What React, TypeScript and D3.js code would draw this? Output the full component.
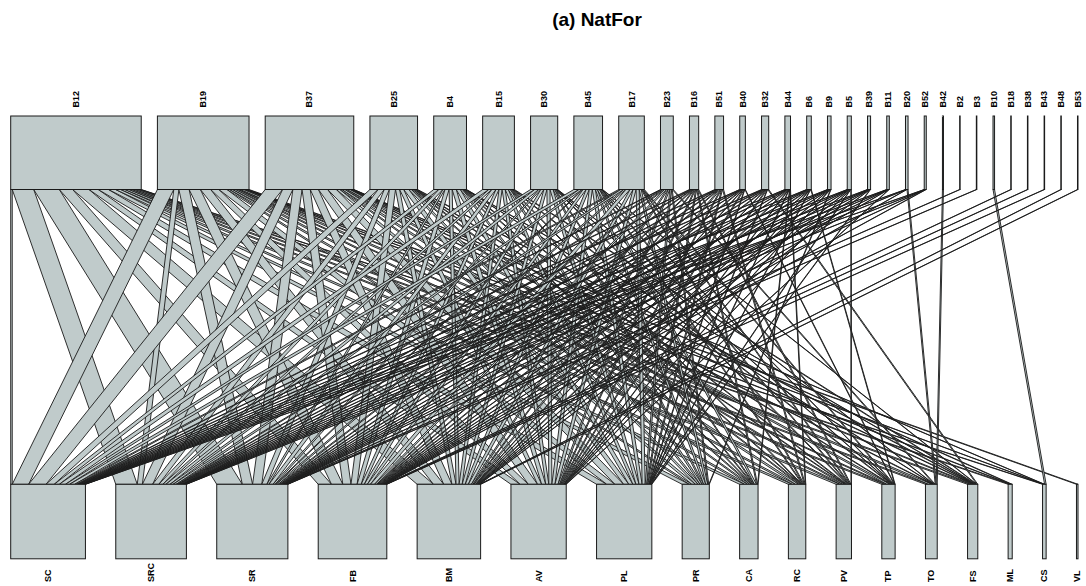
import React from "react";
import * as d3 from "d3";

const title = "(a) NatFor";

const lowerSpecies = ["SC", "SRC", "SR", "FB", "BM", "AV", "PL", "PR", "CA", "RC", "PV", "TP", "TO", "FS", "ML", "CS", "VL"];

const upperSpecies = ["B12", "B19", "B37", "B25", "B4", "B15", "B30", "B45", "B17", "B23", "B16", "B51", "B40", "B32", "B44", "B6", "B9", "B5", "B39", "B11", "B20", "B52", "B42", "B2", "B3", "B10", "B18", "B38", "B43", "B48", "B53"];

// interactions: one row per upper species, one value per lower species (same order as lowerSpecies)
const interactions: number[][] = [
  [3, 42, 50, 26, 32, 18, 20, 14, 10, 8, 8, 6, 6, 6, 4, 2, 0],
  [32, 10, 20, 22, 20, 16, 16, 5, 6, 6, 5, 4, 7, 4, 2, 1, 3],
  [34, 20, 18, 16, 16, 18, 17, 7, 4, 6, 4, 6, 2, 2, 2, 1, 0],
  [16, 12, 10, 12, 8, 8, 10, 5, 3, 3, 2, 2, 0, 2, 0, 0, 0],
  [10, 8, 4, 8, 6, 8, 8, 4, 2, 2, 2, 0, 1, 1, 0, 0, 0],
  [12, 6, 8, 6, 6, 6, 6, 4, 2, 2, 0, 2, 0, 2, 0, 0, 0],
  [8, 8, 4, 6, 6, 6, 6, 3, 2, 0, 2, 1, 1, 0, 0, 0, 0],
  [10, 6, 2, 6, 6, 6, 6, 4, 4, 2, 2, 1, 0, 1, 0, 0, 0],
  [4, 6, 4, 8, 6, 6, 6, 4, 0, 2, 2, 2, 0, 0, 0, 0, 0],
  [2, 3, 3, 4, 3, 3, 3, 2, 0, 0, 0, 0, 2, 0, 0, 0, 0],
  [2, 2, 2, 2, 2, 2, 2, 0, 2, 0, 2, 0, 0, 0, 0, 0, 0],
  [2, 2, 2, 2, 3, 2, 2, 0, 0, 2, 0, 0, 0, 0, 0, 0, 0],
  [1, 2, 1, 2, 1, 2, 1, 0, 0, 0, 0, 1, 0, 0, 0, 0, 0],
  [2, 2, 2, 2, 1, 2, 1, 0, 0, 0, 0, 0, 0, 2, 0, 0, 0],
  [1, 2, 1, 1, 2, 1, 1, 0, 1, 1, 0, 0, 0, 0, 0, 0, 0],
  [1, 1, 1, 2, 1, 1, 1, 0, 0, 0, 0, 1, 0, 0, 0, 0, 0],
  [1, 1, 1, 1, 1, 1, 0, 1, 0, 0, 0, 0, 0, 0, 0, 0, 0],
  [1, 1, 1, 1, 1, 1, 1, 0, 0, 0, 1, 0, 0, 0, 0, 0, 0],
  [1, 1, 1, 1, 1, 0, 1, 0, 0, 0, 0, 0, 0, 0, 0, 0, 0],
  [1, 1, 1, 1, 0, 1, 0, 0, 0, 0, 0, 0, 0, 0, 0, 0, 0],
  [1, 1, 0, 1, 0, 0, 0, 0, 0, 0, 0, 0, 2, 0, 0, 0, 0],
  [1, 1, 1, 1, 0, 0, 0, 0, 0, 0, 0, 0, 0, 0, 0, 0, 0],
  [0, 0, 0, 0, 0, 0, 0, 0, 0, 0, 0, 0, 2, 0, 0, 0, 0],
  [0, 0, 1, 0, 0, 0, 0, 0, 0, 0, 0, 0, 0, 0, 0, 0, 0],
  [0, 0, 1, 0, 0, 0, 0, 0, 0, 0, 0, 0, 0, 0, 0, 0, 0],
  [0, 0, 0, 0, 0, 0, 0, 0, 0, 0, 0, 0, 0, 0, 0, 3, 0],
  [0, 0, 0, 1, 0, 0, 0, 0, 0, 0, 0, 0, 0, 0, 0, 0, 0],
  [0, 0, 0, 1, 0, 0, 0, 0, 0, 0, 0, 0, 0, 0, 0, 0, 0],
  [0, 0, 0, 1, 0, 0, 0, 0, 0, 0, 0, 0, 0, 0, 0, 0, 0],
  [0, 0, 0, 0, 1, 0, 0, 0, 0, 0, 0, 0, 0, 0, 0, 0, 0],
  [0, 0, 0, 0, 1, 0, 0, 0, 0, 0, 0, 0, 0, 0, 0, 0, 0],
];

const W = 1086;
const H = 586;
const X0 = 10.7;
const X1 = 1078;
const TOP_Y0 = 116;
const TOP_Y1 = 189.5;
const BOT_Y0 = 484.3;
const BOT_Y1 = 558.8;
const FILL = "#c0cbcb";
const STROKE = "#1a1a1a";
const FONT = "'Liberation Sans', Arial, Helvetica, sans-serif";

function layoutRow(totals: number[], unitScale: d3.ScaleLinear<number, number>) {
  const totalPx = unitScale(d3.sum(totals));
  const gap = (X1 - X0 - totalPx) / (totals.length - 1);
  const starts: number[] = [];
  let x = X0;
  totals.forEach((t) => {
    starts.push(x);
    x += unitScale(t) + gap;
  });
  return starts;
}

export default function App() {
  const upperTotals = interactions.map((r) => d3.sum(r));
  const lowerTotals = lowerSpecies.map((_, i) => d3.sum(interactions, (r) => r[i]));
  const grand = d3.sum(upperTotals);
  const unit = d3.scaleLinear().domain([0, grand]).range([0, 582]);

  const upperStart = layoutRow(upperTotals, unit);
  const lowerStart = layoutRow(lowerTotals, unit);

  const upperCursor = upperStart.slice();
  const lowerCursor = lowerStart.slice();
  const topOff: number[][] = interactions.map(() => new Array(lowerSpecies.length).fill(0));
  const botOff: number[][] = interactions.map(() => new Array(lowerSpecies.length).fill(0));
  interactions.forEach((row, j) => {
    row.forEach((v, i) => {
      topOff[j][i] = upperCursor[j];
      upperCursor[j] += unit(v);
    });
  });
  lowerSpecies.forEach((_, i) => {
    interactions.forEach((row, j) => {
      botOff[j][i] = lowerCursor[i];
      lowerCursor[i] += unit(row[i]);
    });
  });

  const links: { key: string; d: string }[] = [];
  interactions.forEach((row, j) => {
    row.forEach((v, i) => {
      if (v <= 0) return;
      const w = unit(v);
      const t0 = topOff[j][i];
      const b0 = botOff[j][i];
      const p = d3.path();
      p.moveTo(t0, TOP_Y1);
      p.lineTo(t0 + w, TOP_Y1);
      p.lineTo(b0 + w, BOT_Y0);
      p.lineTo(b0, BOT_Y0);
      p.closePath();
      links.push({ key: `${j}-${i}`, d: p.toString() });
    });
  });

  return (
    <svg width={W} height={H} style={{ position: "absolute", left: 0, top: 0, background: "#fff" }}>
      <rect x={0} y={0} width={W} height={H} fill="#fff" />
      <text x={597} y={26} textAnchor="middle" fontFamily={FONT} fontWeight="bold" fontSize={19} fill="#000">
        {title}
      </text>
      <g>
        {links.map((l) => (
          <path key={l.key} d={l.d} fill={FILL} stroke={STROKE} strokeWidth={0.9} strokeLinejoin="miter" />
        ))}
      </g>
      <g>
        {upperSpecies.map((s, j) => {
          const x = upperStart[j];
          const w = unit(upperTotals[j]);
          const cx = x + w / 2;
          return (
            <g key={s}>
              <rect x={x} y={TOP_Y0} width={w} height={TOP_Y1 - TOP_Y0} fill={FILL} stroke={STROKE} strokeWidth={1} />
              <text
                transform={`translate(${cx},107.5) rotate(-90)`}
                dominantBaseline="central"
                fontFamily={FONT}
                fontWeight="bold"
                fontSize={9}
                fill="#000"
              >
                {s}
              </text>
            </g>
          );
        })}
        {lowerSpecies.map((s, i) => {
          const x = lowerStart[i];
          const w = unit(lowerTotals[i]);
          const cx = x + w / 2;
          return (
            <g key={s}>
              <rect x={x} y={BOT_Y0} width={w} height={BOT_Y1 - BOT_Y0} fill={FILL} stroke={STROKE} strokeWidth={1} />
              <text
                transform={`translate(${cx},582) rotate(-90)`}
                dominantBaseline="central"
                fontFamily={FONT}
                fontWeight="bold"
                fontSize={9}
                fill="#000"
              >
                {s}
              </text>
            </g>
          );
        })}
      </g>
    </svg>
  );
}
